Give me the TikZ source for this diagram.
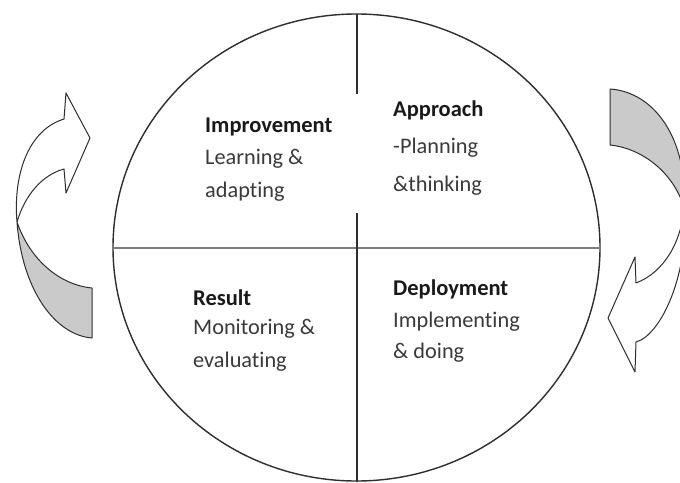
\documentclass[tikz,border=0pt]{standalone}
\usepackage{fontspec}
\setmainfont{Carlito}[Ligatures=NoCommon]
\definecolor{edge}{HTML}{2E2E2E}
\definecolor{divider}{HTML}{7C7C7C}
\definecolor{backgray}{HTML}{CACACA}
\definecolor{bodytext}{HTML}{3A3A3A}
\tikzset{
  head/.style={anchor=base west, inner sep=0pt, font=\fontsize{22.5}{26}\selectfont\bfseries, text=black!90},
  body/.style={anchor=base west, inner sep=0pt, font=\fontsize{22.3}{26}\selectfont, text=bodytext},
  arrowline/.style={draw=edge, line width=1pt, line join=round},
}
\begin{document}
\begin{tikzpicture}[x=1pt,y=-1pt]
\useasboundingbox (0,0) rectangle (680,482);
\clip (0,0) rectangle (680,482);
\fill[white] (0,0) rectangle (680,482);

% circle and dividers
\draw[edge, line width=1.4pt] (356.5,247.5) ellipse [x radius=243.5, y radius=233.5];
\draw[divider, line width=2pt] (113,248) -- (600,248);
\draw[edge, line width=1.5pt] (357,14) -- (357,94);
\draw[edge, line width=1.5pt] (357,213) -- (357,482);

% left curved arrow
\coordinate (lc) at (17,222);
\filldraw[arrowline, fill=backgray] (lc) .. controls (30,260) and (60,285) .. (92,288) -- (92,338) .. controls (55,335) and (22,290) .. (lc);
\filldraw[arrowline, fill=white] (lc) .. controls (13,175) and (28,130) .. (64,119) -- (66,93) -- (90,138) -- (66,193) -- (64,169) .. controls (42,175) and (25,195) .. (lc);

% right curved arrow
\coordinate (rc) at (684,207);
\filldraw[arrowline, fill=backgray] (610,89) .. controls (655,92) and (688,140) .. (rc) .. controls (672,170) and (640,148) .. (610,145) -- cycle;
\filldraw[arrowline, fill=white] (rc) .. controls (682,240) and (665,272) .. (636,283) -- (635,257) -- (608,318) -- (635,372) -- (636,342) .. controls (662,335) and (690,270) .. (rc);

% texts
\node[head] (imp) at (205,132) {Improvement};
\node[body] (imp1) at (205,164) {Learning \&};
\node[body] (imp2) at (205,197) {adapting};

\node[head] (app) at (393,116) {Approach};
\node[body] (app1) at (393,153) {-Planning};
\node[body] (app2) at (393,191) {\&thinking};

\node[head] (res) at (193,305) {Result};
\node[body] (res1) at (193,334) {Monitoring \&};
\node[body] (res2) at (193,367) {evaluating};

\node[head] (dep) at (393,295) {Deployment};
\node[body] (dep1) at (393,327) {Implementing};
\node[body] (dep2) at (393,358) {\& doing};
\end{tikzpicture}
\end{document}
